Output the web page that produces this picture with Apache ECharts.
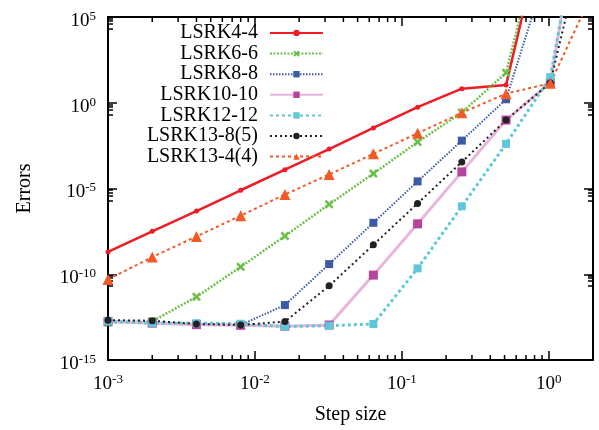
<!DOCTYPE html>
<html>
<head>
<meta charset="utf-8">
<script src="https://cdn.jsdelivr.net/npm/echarts@6/dist/echarts.min.js"></script>
<style>
  html, body { margin: 0; padding: 0; background: #fff; }
  #chart { width: 599px; height: 430px; }
</style>
</head>
<body>
<div id="chart"></div>
<script>
// step sizes (x)
var steps = [0.001, 0.002, 0.004, 0.008, 0.016, 0.032, 0.064, 0.128, 0.256, 0.512, 1.024, 2.048];
// x minor tick positions (2..9 per decade)
var minorSteps = [0.002, 0.003, 0.004, 0.005, 0.006, 0.007, 0.008, 0.009,
  0.02, 0.03, 0.04, 0.05, 0.06, 0.07, 0.08, 0.09,
  0.2, 0.3, 0.4, 0.5, 0.6, 0.7, 0.8, 0.9];

// errors
var lsrk44 = [2.0e-9, 3.2e-8, 4.8e-7, 7.9e-6, 1.26e-4, 2.0e-3, 3.4e-2, 0.55, 6.6, 10.7, 1e12];
var lsrk66 = [1.5e-13, 1.8e-13, 4.8e-12, 2.7e-10, 1.7e-8, 1.2e-6, 7.4e-5, 5.1e-3, 0.27, 56, 1e12];
var lsrk88 = [1.8e-13, 1.6e-13, 1.26e-13, 1.1e-13, 1.6e-12, 3.9e-10, 1.0e-7, 2.6e-5, 6.2e-3, 1.6, 2.5e8];
var lsrk1010 = [1.8e-13, 1.4e-13, 1.15e-13, 1.05e-13, 9.3e-14, 1.1e-13, 8.9e-11, 8.7e-8, 9.3e-5, 9.8e-2, 14.8, 3e16];
var lsrk1212 = [1.8e-13, 1.4e-13, 1.4e-13, 1.3e-13, 8.9e-14, 1.0e-13, 1.26e-13, 2.2e-10, 9.1e-7, 4.0e-3, 31, 4e15];
var lsrk138 = [2.1e-13, 1.95e-13, 1.26e-13, 1.1e-13, 1.74e-13, 2.1e-11, 5.2e-9, 1.35e-6, 3.5e-4, 9.8e-2, 14.8, 1e12];
var lsrk134 = [5.0e-11, 1.0e-9, 1.6e-8, 2.6e-7, 4.5e-6, 6.5e-5, 1.05e-3, 1.66e-2, 0.26, 3.4, 13.5, 4.5e6];

var names = ['LSRK4-4', 'LSRK6-6', 'LSRK8-8', 'LSRK10-10', 'LSRK12-12', 'LSRK13-8(5)', 'LSRK13-4(4)'];

var yMin = 1e-15, yMax = 1e5;
var font = 'Liberation Serif';

function pairs(vals) {
  return vals.map(function (v, i) { return [steps[i], v]; });
}

function powLabel(v) {
  var e = Math.round(Math.log(v) / Math.LN10);
  return '{b|10}{s|' + e + '}';
}

var labelRich = {
  b: { fontFamily: font, fontSize: 19, color: '#000', lineHeight: 22 },
  s: { fontFamily: font, fontSize: 13, color: '#000', lineHeight: 22, verticalAlign: 'top', padding: [0, 0, 8, 0] }
};

var crossPath = 'path://M0,2 L2,0 L5,3 L8,0 L10,2 L7,5 L10,8 L8,10 L5,7 L2,10 L0,8 L3,5 Z';

function mkLine(name, vals, color, lineType, width, symbol, size, symColor) {
  return {
    name: name,
    type: 'line',
    data: pairs(vals),
    symbol: symbol,
    symbolSize: size,
    showAllSymbol: true,
    clip: true,
    lineStyle: { color: color, width: width, type: lineType },
    itemStyle: { color: symColor || color },
    emphasis: { disabled: true },
    z: 3
  };
}

var chart = echarts.init(document.getElementById('chart'));

chart.setOption({
  animation: false,
  backgroundColor: '#fff',
  grid: { left: 108, right: 6, top: 17, bottom: 67 },
  legend: {
    data: names,
    orient: 'vertical',
    align: 'right',
    right: 270,
    top: 18,
    itemWidth: 53,
    itemHeight: 8,
    itemGap: 0.6,
    textStyle: { fontFamily: font, fontSize: 20, color: '#000', width: 125, align: 'right', padding: [0, 7, 0, 0] }
  },
  xAxis: [{
    type: 'log',
    logBase: 10,
    min: 0.001,
    max: 2,
    interval: 1,
    position: 'bottom',
    name: 'Step size',
    nameLocation: 'middle',
    nameGap: 45,
    nameTextStyle: { fontFamily: font, fontSize: 20, color: '#000' },
    axisLine: { lineStyle: { color: '#000', width: 2 } },
    axisTick: { inside: true, length: 9, lineStyle: { color: '#000', width: 1.5 } },
    axisLabel: { formatter: powLabel, rich: labelRich, margin: 13, showMaxLabel: false, color: '#000' },
    splitLine: { show: false }
  }, {
    type: 'log',
    logBase: 10,
    min: 0.001,
    max: 2,
    interval: 1,
    position: 'top',
    axisLine: { lineStyle: { color: '#000', width: 2 } },
    axisTick: { inside: true, length: 9, lineStyle: { color: '#000', width: 1.5 } },
    axisLabel: { show: false },
    splitLine: { show: false }
  }],
  yAxis: [{
    type: 'log',
    logBase: 10,
    min: yMin,
    max: yMax,
    interval: 5,
    position: 'left',
    name: 'Errors',
    nameLocation: 'middle',
    nameRotate: 90,
    nameGap: 73,
    nameTextStyle: { fontFamily: font, fontSize: 20, color: '#000' },
    axisLine: { lineStyle: { color: '#000', width: 2 } },
    axisTick: { inside: true, length: 9, lineStyle: { color: '#000', width: 1.5 } },
    minorTick: { show: true, splitNumber: 5, length: 5, lineStyle: { color: '#000', width: 1.5 } },
    axisLabel: { formatter: powLabel, rich: labelRich, margin: 12, padding: [8, 0, 0, 0], color: '#000' },
    splitLine: { show: false }
  }, {
    type: 'log',
    logBase: 10,
    min: yMin,
    max: yMax,
    interval: 5,
    position: 'right',
    axisLine: { lineStyle: { color: '#000', width: 2 } },
    axisTick: { inside: true, length: 9, lineStyle: { color: '#000', width: 1.5 } },
    minorTick: { show: true, splitNumber: 5, length: 5, lineStyle: { color: '#000', width: 1.5 } },
    axisLabel: { show: false },
    splitLine: { show: false }
  }],
  series: [
    mkLine(names[0], lsrk44, '#ee1c25', 'solid', 2.5, 'circle', 5),
    mkLine(names[1], lsrk66, '#6cc04a', [2, 1.5], 2.5, crossPath, 9),
    mkLine(names[2], lsrk88, '#3b5ba9', [1.5, 1.5], 2, 'rect', 8),
    mkLine(names[3], lsrk1010, '#e9b5dd', 'solid', 3, 'rect', 9, '#b5459a'),
    mkLine(names[4], lsrk1212, '#5ec8d8', [3, 3], 3, 'rect', 8),
    mkLine(names[5], lsrk138, '#222', [2, 3], 2, 'circle', 7),
    mkLine(names[6], lsrk134, '#f15a24', [3, 3], 2, 'triangle', 11),
    {
      type: 'custom',
      silent: true,
      data: minorSteps.map(function (v) { return [v, yMin]; }),
      encode: { x: 0, y: 1 },
      renderItem: function (params, api) {
        var b = api.coord([api.value(0), yMin]);
        var t = api.coord([api.value(0), yMax]);
        var st = { stroke: '#000', lineWidth: 1.5 };
        return {
          type: 'group',
          children: [
            { type: 'line', shape: { x1: b[0], y1: b[1], x2: b[0], y2: b[1] - 5 }, style: st },
            { type: 'line', shape: { x1: t[0], y1: t[1], x2: t[0], y2: t[1] + 5 }, style: st }
          ]
        };
      },
      z: 1
    }
  ]
});
</script>
</body>
</html>
